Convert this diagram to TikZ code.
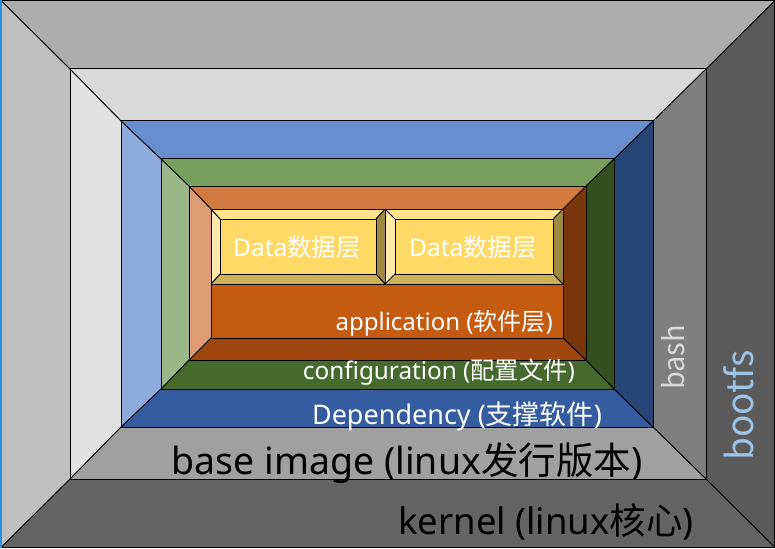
\documentclass[tikz,border=0pt]{standalone}
\usepackage{fontspec}
\setmainfont{Noto Sans}
\newfontfamily\cjk{Noto Sans CJK SC}
\definecolor{aT}{HTML}{ADADAD}\definecolor{aL}{HTML}{BFBFBF}\definecolor{aR}{HTML}{5A5A5A}\definecolor{aB}{HTML}{646464}
\definecolor{bT}{HTML}{D9D9D9}\definecolor{bL}{HTML}{E2E2E2}\definecolor{bR}{HTML}{7F7F7F}\definecolor{bB}{HTML}{A0A0A0}
\definecolor{cT}{HTML}{698ED0}\definecolor{cL}{HTML}{8FAADC}\definecolor{cR}{HTML}{284578}\definecolor{cB}{HTML}{345C9F}
\definecolor{dT}{HTML}{779F5E}\definecolor{dL}{HTML}{9AB787}\definecolor{dR}{HTML}{334F1F}\definecolor{dB}{HTML}{46692E}
\definecolor{eT}{HTML}{D27B40}\definecolor{eL}{HTML}{DD9C72}\definecolor{eR}{HTML}{79350B}\definecolor{eB}{HTML}{A0460F}
\definecolor{eC}{HTML}{C55A11}
\definecolor{fT}{HTML}{FFE38A}\definecolor{fL}{HTML}{FFE9A8}\definecolor{fR}{HTML}{9E8842}\definecolor{fB}{HTML}{CDB158}
\definecolor{fC}{HTML}{FFD966}
\definecolor{leftstrip}{HTML}{2390DD}
\definecolor{bashcol}{HTML}{D9D9D9}
\definecolor{bootcol}{HTML}{9DC3E6}
\def\bevel(#1,#2,#3,#4)(#5,#6,#7,#8)#9{%
  \fill[#9T] (#1,#2) -- (#3,#2) -- (#7,#6) -- (#5,#6) -- cycle;
  \fill[#9L] (#1,#2) -- (#5,#6) -- (#5,#8) -- (#1,#4) -- cycle;
  \fill[#9R] (#3,#2) -- (#3,#4) -- (#7,#8) -- (#7,#6) -- cycle;
  \fill[#9B] (#1,#4) -- (#5,#8) -- (#7,#8) -- (#3,#4) -- cycle;
  \draw[edge] (#1,#2) -- (#5,#6) (#3,#2) -- (#7,#6) (#1,#4) -- (#5,#8) (#3,#4) -- (#7,#8);
  \draw[edge] (#1,#2) rectangle (#3,#4);
  \draw[edge] (#5,#6) rectangle (#7,#8);
}
\begin{document}
\begin{tikzpicture}[x=1pt,y=-1pt,
  edge/.style={draw=black,line width=1pt,line join=miter},
  wlabel/.style={text=white,inner sep=0pt},
  klabel/.style={text=black,inner sep=0pt}]
\useasboundingbox (0,0) rectangle (775,548);
\fill[white] (0,0) rectangle (775,548);
\bevel(1.5,1,774.5,547)(70,69,706,479){a}
\fill[leftstrip] (0,0) rectangle (2,548);
\bevel(70,69,706,479)(121,121,653,427){b}
\bevel(121,121,653,427)(161,159,614,389){c}
\bevel(161,159,614,389)(189,186,586,360){d}
\bevel(189,186,586,360)(211,209,563,338){e}
\fill[eC] (211,209) rectangle (563,338);
\draw[edge] (211,209) rectangle (563,338);
\bevel(211,209,385,284)(220,219,376,274){f}
\fill[fC] (220,219) rectangle (376,274);
\draw[edge] (220,219) rectangle (376,274);
\bevel(385,209,563,284)(395,219,553,274){f}
\fill[fC] (395,219) rectangle (553,274);
\draw[edge] (395,219) rectangle (553,274);

\node[wlabel,font=\fontsize{24.5}{24.5}\selectfont] (data1) at (297,247) {Data{\cjk 数据层}};
\node[wlabel,font=\fontsize{24.5}{24.5}\selectfont] (data2) at (473,247) {Data{\cjk 数据层}};
\node[wlabel,anchor=base east,font=\fontsize{24}{24}\selectfont] (app) at (553,330) {application ({\cjk 软件层})};
\node[wlabel,anchor=base,font=\fontsize{24.3}{24.3}\selectfont] (conf) at (439,379) {configuration ({\cjk 配置文件})};
\node[wlabel,anchor=base,font=\fontsize{27}{27}\selectfont] (dep) at (457,424) {Dependency ({\cjk 支撑软件})};
\node[klabel,anchor=base,font=\fontsize{37.5}{37.5}\selectfont] (base) at (407,474) {base image (linux{\cjk 发行版本})};
\node[klabel,anchor=base,font=\fontsize{36.5}{36.5}\selectfont] (kern) at (546,534) {kernel (linux{\cjk 核心})};
\node[anchor=base,rotate=90,inner sep=0pt,text=bashcol,font=\cjk\fontsize{29}{29}\selectfont] (bash) at (684,357.5) {bash};
\node[anchor=base,rotate=90,inner sep=0pt,text=bootcol,font=\cjk\fontsize{37}{37}\selectfont] (boot) at (753,405.5) {bootfs};
\end{tikzpicture}
\end{document}
